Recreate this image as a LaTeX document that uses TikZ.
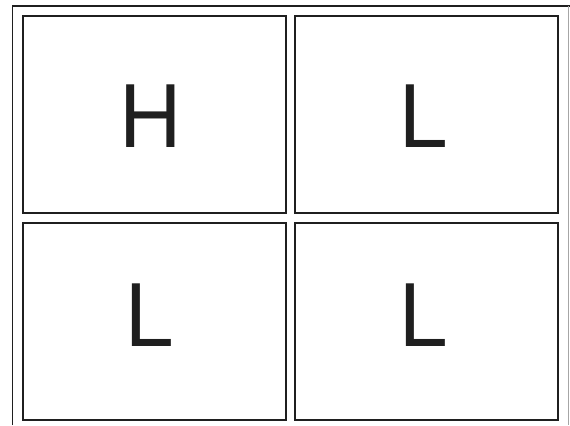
\documentclass[tikz,border=0pt]{standalone}
\usepackage{fontspec}
\setmainfont{TeX Gyre Heros}
\begin{document}
\begin{tikzpicture}[x=1bp,y=-1bp,
  cell/.style={draw=black!88,line width=1.7bp},
  frame/.style={draw=black!88,line width=1.7bp},
  letter/.style={inner sep=0pt,text=black!88,font=\fontsize{86bp}{86bp}\selectfont}]
\useasboundingbox[fill=white] (0,0) rectangle (570,425);
\draw[frame] (12.5,425) -- (12.5,6) -- (570,6);
\draw[draw=black!35,line width=0.8bp] (568.5,6) -- (568.5,425);
\draw[cell] (23,16) rectangle (286,213);
\draw[cell] (295,16) rectangle (558,213);
\draw[cell] (23,223) rectangle (286,420);
\draw[cell] (295,223) rectangle (558,420);
\node[letter] (h) at (151,116) {H};
\node[letter] (l1) at (423,116.5) {L};
\node[letter] (l2) at (149,315.5) {L};
\node[letter] (l3) at (423,315.5) {L};
\end{tikzpicture}
\end{document}
